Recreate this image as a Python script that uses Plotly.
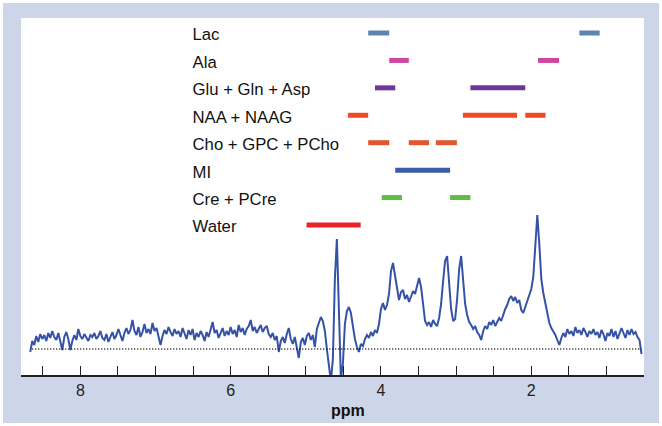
import numpy as np
import plotly.graph_objects as go

# ---- data ----
metabolites = ["Lac", "Ala", "Glu + Gln + Asp", "NAA + NAAG",
               "Cho + GPC + PCho", "MI", "Cre + PCre", "Water"]
ranges_ppm = [
    [(4.17, 3.89), (1.36, 1.09)],
    [(3.89, 3.63), (1.91, 1.63)],
    [(4.08, 3.81), (2.81, 2.08)],
    [(4.44, 4.17), (2.91, 2.19), (2.08, 1.81)],
    [(4.17, 3.89), (3.63, 3.36), (3.27, 2.99)],
    [(3.81, 3.08)],
    [(3.99, 3.72), (3.08, 2.81)],
    [(4.99, 4.27)],
]
bar_colors = ["#5b84b1", "#cf469e", "#6f3799", "#f24a24",
              "#e2572f", "#3b5ca8", "#62bb46", "#ea2228"]

ppm_start, ppm_end = 8.667, 0.533
intensity = [
    -3, 8, 4, 13, 7, 15, 10, 14, 8, 16, 11, 18, 12, 9, 16, 6, -1, 12, 17, 10,
    -1, 8, 14, 9, 20, 13, 10, 15, 11, 8, 14, 12, 16, 10, 13, 18, 11, 9, 15, 7,
    12, 17, 10, 14, 20, 13, 8, 16, 21, 15, 19, 29, 18, 14, 22, 12, 17, 25, 16, 20,
    15, 26, 18, 21, 11, 4, 13, 19, 15, 22, 17, 13, 20, 15, 18, 12, 21, 16, 10, 19,
    14, 20, 9, 16, 12, 18, 14, 8, 17, 12, 20, 27, 16, 19, 11, 16, 21, 13, 18, 14,
    22, 15, 19, 12, 24, 17, 21, 14, 20, 23, 29, 18, 22, 16, 20, 24, 17, 21, 23, 15,
    12, 16, 9, 13, -3, 8, 12, 6, 15, 21, 10, 5, 12, 3, -9, 7, 11, 4, 13, 16,
    9, 14, 2, 20, 27, 32, 28, 18, 0, -20, -32, -10, 70, 110, 30, -30, -15, 25, 38, 42,
    36, 22, 10, 2, -3, 5, 3, 10, 14, 11, 17, 13, 19, 16, 25, 40, 46, 39, 44, 55,
    78, 86, 75, 60, 49, 57, 59, 50, 54, 47, 53, 58, 55, 63, 71, 62, 42, 28, 24, 27,
    22, 29, 25, 23, 31, 45, 68, 88, 93, 70, 40, 28, 30, 50, 80, 93, 72, 45, 34, 27,
    24, 20, 23, 17, 14, 9, 18, 23, 20, 27, 24, 29, 23, 27, 31, 28, 35, 40, 44, 50,
    53, 48, 52, 46, 49, 39, 36, 43, 48, 54, 60, 72, 110, 134, 105, 70, 56, 46, 33, 26,
    21, 18, 14, 9, 4, 11, 16, 12, 20, 15, 18, 13, 22, 16, 19, 14, 21, 17, 12, 18,
    15, 20, 14, 17, 11, 19, 15, 8, 16, 13, 20, 12, 18, 10, 15, 21, 16, 11, 19, 14,
    20, 15, 17, 12, 9, -5,
]
tick_vals = [8, 6, 4, 2]
tick_text = ["8", "6", "4", "2"]
x_title = "ppm"

ppm = np.linspace(ppm_start, ppm_end, len(intensity))

FONT = "Liberation Sans, Arial, sans-serif"
fig = go.Figure()

# spectrum
fig.add_trace(go.Scatter(x=ppm, y=intensity, mode="lines",
                         line=dict(color="#3553a6", width=2),
                         hoverinfo="skip", showlegend=False))
# dotted baseline
fig.add_trace(go.Scatter(x=[ppm[1], ppm[-1]], y=[0, 0], mode="lines",
                         line=dict(color="#111111", width=1.3, dash="1px,2px"),
                         hoverinfo="skip", showlegend=False))

# metabolite bars
for i, (name, segs, col) in enumerate(zip(metabolites, ranges_ppm, bar_colors)):
    xs, ys = [], []
    for a, b in segs:
        xs += [a, b, None]
        ys += [i, i, None]
    fig.add_trace(go.Scatter(x=xs, y=ys, yaxis="y2", mode="lines",
                             line=dict(color=col, width=5),
                             hoverinfo="skip", showlegend=False))

# labels (slightly lowered so they sit level with their bars)
fig.add_trace(go.Scatter(x=[6.507] * len(metabolites),
                         y=[i + 0.12 for i in range(len(metabolites))],
                         yaxis="y2", mode="text", text=metabolites,
                         textposition="middle right",
                         textfont=dict(family=FONT, size=16.7, color="#111111"),
                         hoverinfo="skip", showlegend=False))

fig.add_annotation(x=4.44, y=-0.07, xref="x", yref="paper", text="<b>" + x_title + "</b>",
                   showarrow=False, yanchor="top",
                   font=dict(family=FONT, size=16, color="#111111"))

fig.update_layout(
    width=662, height=426,
    margin=dict(l=21, r=18, t=18, b=51),
    paper_bgcolor="white", plot_bgcolor="white",
    font=dict(family=FONT, size=16, color="#222222"),
    xaxis=dict(range=[8.79, 0.5], showgrid=False, zeroline=False,
               showline=True, linecolor="#222222", linewidth=1.5,
               tickvals=tick_vals, ticktext=tick_text,
               ticks="inside", ticklen=9, tickwidth=1, tickcolor="#222222",
               minor=dict(dtick=0.5, tick0=0, ticks="inside", ticklen=9,
                          tickwidth=1, tickcolor="#222222"),
               tickfont=dict(family=FONT, size=16, color="#222222")),
    yaxis=dict(range=[-26, 331], visible=False, fixedrange=True),
    yaxis2=dict(range=[12.47, -0.547], overlaying="y", visible=False),
    shapes=[
        dict(type="rect", xref="paper", yref="paper", x0=-0.0289, x1=1.0241,
             y0=-0.1345, y1=1.042, fillcolor="#cdd6e8", line=dict(width=0),
             layer="below"),
        dict(type="rect", xref="paper", yref="paper", x0=0, x1=1, y0=0, y1=1,
             fillcolor="white", line=dict(width=0), layer="below"),
    ],
)

fig.write_html("out.html", config={"displayModeBar": False},
               post_script="document.body.style.margin='0';")
